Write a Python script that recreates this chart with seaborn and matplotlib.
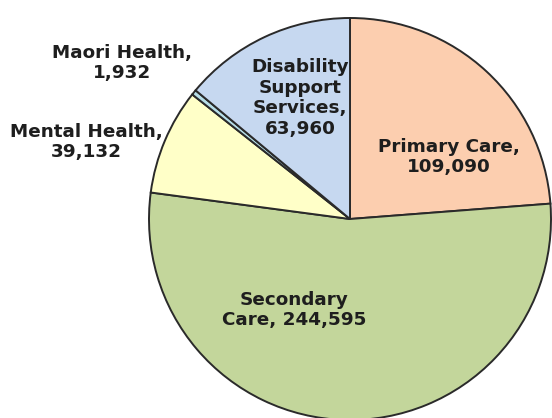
import matplotlib
matplotlib.use("Agg")
import matplotlib.pyplot as plt
import seaborn as sns

categories = ["Primary Care", "Secondary Care", "Mental Health", "Maori Health",
              "Disability Support Services"]
values = [109090, 244595, 39132, 1932, 63960]
label_texts = ["Primary Care,\n109,090", "Secondary\nCare, 244,595",
               "Mental Health,\n39,132", "Maori Health,\n1,932",
               "Disability\nSupport\nServices,\n63,960"]

colors = ["#FCCEAF", "#C3D69B", "#FFFFC8", "#B7DEE8", "#C6D8F0"]

sns.set_theme(style="white")
plt.rcParams['font.family'] = ['DejaVu Sans']

W, H = 552, 418
fig = plt.figure(figsize=(W / 100, H / 100), dpi=100)
ax = fig.add_axes([0, 0, 1, 1])

R = 201.0
cx, cy = 350.0, 219.0

ax.pie(values, colors=colors, startangle=90, counterclock=False, radius=1.0,
       wedgeprops=dict(edgecolor="#2a2a2a", linewidth=1.4))

def px(x, y):
    return (x - cx) / R, (cy - y) / R

label_px = [(449, 157), (294, 310), (86, 142), (122, 63), (300, 98)]
for txt, (x, y) in zip(label_texts, label_px):
    dx, dy = px(x, y)
    ax.text(dx, dy, txt, ha="center", va="center", fontsize=13.2,
            fontweight="bold", color="#1e1e1e", linespacing=1.2)

ax.set_xlim(-cx / R, (W - cx) / R)
ax.set_ylim(-(H - cy) / R, cy / R)
ax.set_aspect("equal")
ax.axis("off")

fig.savefig("out.png", dpi=100, facecolor="white")
